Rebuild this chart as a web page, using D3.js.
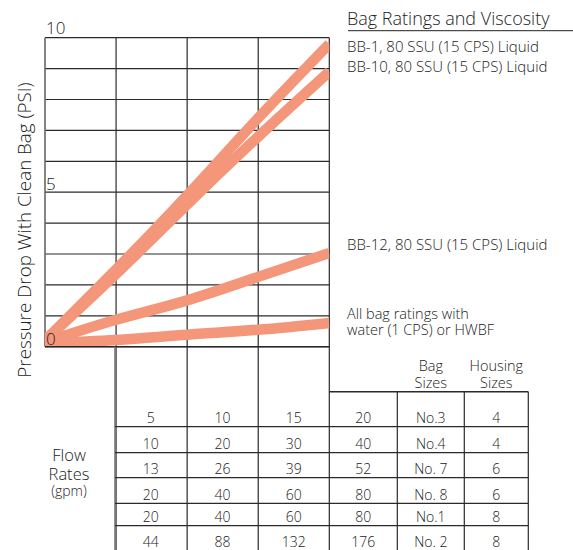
<!DOCTYPE html>
<html>
<head>
<meta charset="utf-8">
<script src="https://cdn.jsdelivr.net/npm/d3@7"></script>
<style>
	body { margin: 0; background: #fff; }
	svg text { font-family: 'Open Sans', sans-serif; font-weight: 300; fill: #222; }
</style>
</head>
<body>
<div id="chart-area"></div>
<script>
// Data
const flows = [0, 5, 10, 15, 20]
const bb1 = [0.2, 2.5, 4.9, 7.4, 9.8]
const bb10 = [0.2, 2.35, 4.6, 6.8, 8.9]
const bb12 = [0.15, 0.87, 1.5, 2.26, 3.03]
const water = [0.12, 0.22, 0.39, 0.55, 0.77]
const seriesNames = ['BB-1, 80 SSU (15 CPS) Liquid', 'BB-10, 80 SSU (15 CPS) Liquid',
	'BB-12, 80 SSU (15 CPS) Liquid', ['All bag ratings with', 'water (1 CPS) or HWBF']]
const yTicks = [0, 5, 10]

const tableRows = [
	['5', '10', '15', '20', 'No.3', '4'],
	['10', '20', '30', '40', 'No.4', '4'],
	['13', '26', '39', '52', 'No. 7', '6'],
	['20', '40', '60', '80', 'No. 8', '6'],
	['20', '40', '60', '80', 'No.1', '8'],
	['44', '88', '132', '176', 'No. 2', '8']
]
const headers = [['Bag', 'Sizes'], ['Housing', 'Sizes']]

// Sizing
const W = 573, H = 550
const PLOT = { LEFT: 45, RIGHT: 329.3, TOP: 37.7, BOTTOM: 346.7 }

const svg = d3.select('#chart-area').append('svg')
	.attr('width', W)
	.attr('height', H)

const x = d3.scaleLinear().domain([0, 20]).range([PLOT.LEFT, PLOT.RIGHT])
const y = d3.scaleLinear().domain([0, 10]).range([PLOT.BOTTOM, PLOT.TOP])

const gridColor = '#2a2a2a'

// grid
svg.append('g').selectAll('line.h')
	.data(d3.range(0, 11))
	.enter().append('line')
	.attr('x1', PLOT.LEFT).attr('x2', PLOT.RIGHT)
	.attr('y1', d => y(d)).attr('y2', d => y(d))
	.attr('stroke', gridColor).attr('stroke-width', 1.2)

svg.append('line')
	.attr('x1', PLOT.LEFT).attr('x2', PLOT.LEFT)
	.attr('y1', PLOT.TOP).attr('y2', PLOT.BOTTOM)
	.attr('stroke', '#666').attr('stroke-width', 1.6)

// interior verticals run down through the table
svg.append('g').selectAll('line.v')
	.data(flows.slice(1))
	.enter().append('line')
	.attr('x1', d => x(d)).attr('x2', d => x(d))
	.attr('y1', PLOT.TOP).attr('y2', H)
	.attr('stroke', gridColor).attr('stroke-width', 1.2)

// lines
svg.append('clipPath').attr('id', 'plot-clip')
	.append('rect')
	.attr('x', PLOT.LEFT).attr('y', PLOT.TOP)
	.attr('width', PLOT.RIGHT - PLOT.LEFT).attr('height', PLOT.BOTTOM - PLOT.TOP)

const line = d3.line()
	.x((d, i) => x(flows[i]))
	.y(d => y(d))
	.curve(d3.curveNatural)

svg.append('g').attr('clip-path', 'url(#plot-clip)')
	.selectAll('path')
	.data([water, bb12, bb10, bb1])
	.enter().append('path')
	.attr('d', line)
	.attr('fill', 'none')
	.attr('stroke', '#f4967a')
	.attr('stroke-width', 10.5)

// y tick labels
svg.append('g').selectAll('text')
	.data(yTicks)
	.enter().append('text')
	.attr('x', PLOT.LEFT + 1)
	.attr('y', d => d === 10 ? y(d) - 3.5 : y(d) - 1.8)
	.attr('font-size', '17px')
	.text(d => d)

// y-axis label
svg.append('text')
	.attr('transform', 'translate(31, 230) rotate(-90)')
	.attr('text-anchor', 'middle')
	.attr('font-size', '18.8px')
	.text('Pressure Drop With Clean Bag (PSI)')

// legend
svg.append('text')
	.attr('x', 347).attr('y', 25)
	.attr('font-size', '18px')
	.text('Bag Ratings and Viscosity')
svg.append('line')
	.attr('x1', 348).attr('x2', W)
	.attr('y1', 30.7).attr('y2', 30.7)
	.attr('stroke', '#222').attr('stroke-width', 1)

const legendY = [51.5, 71.5, 250, 318.5]
seriesNames.forEach((name, i) => {
	const t = svg.append('text')
		.attr('x', 347).attr('y', legendY[i])
		.attr('font-size', Array.isArray(name) ? '14.5px' : '15px')
	const lines = Array.isArray(name) ? name : [name]
	lines.forEach((s, j) => {
		t.append('tspan').attr('x', 347).attr('dy', j ? 16.5 : 0).text(s)
	})
})

// table
const colX = [115, 186.7, 258.3, 329.3, 397.3, 464.3, 528.3]
const rowY = [391.7, 426.7, 452.7, 477.7, 503.3, 525.7, H]
const tbl = svg.append('g')

// bottom axis of plot + top of right-hand box
tbl.append('line')
	.attr('x1', PLOT.LEFT).attr('x2', PLOT.RIGHT)
	.attr('y1', PLOT.BOTTOM).attr('y2', PLOT.BOTTOM)
	.attr('stroke', gridColor).attr('stroke-width', 1.4)
tbl.append('line')
	.attr('x1', colX[3]).attr('x2', colX[6])
	.attr('y1', rowY[0]).attr('y2', rowY[0])
	.attr('stroke', gridColor).attr('stroke-width', 1.4)

tbl.append('line')
	.attr('x1', colX[0]).attr('x2', colX[0])
	.attr('y1', PLOT.BOTTOM).attr('y2', H)
	.attr('stroke', '#777').attr('stroke-width', 1.6)

tbl.selectAll('line.col')
	.data(colX.slice(4))
	.enter().append('line')
	.attr('x1', d => d).attr('x2', d => d)
	.attr('y1', rowY[0]).attr('y2', H)
	.attr('stroke', gridColor).attr('stroke-width', 1.2)

tbl.selectAll('line.row')
	.data(rowY.slice(1, 6))
	.enter().append('line')
	.attr('x1', colX[0]).attr('x2', colX[6])
	.attr('y1', d => d).attr('y2', d => d)
	.attr('stroke', gridColor).attr('stroke-width', 1.2)

tableRows.forEach((row, r) => {
	tbl.selectAll(null)
		.data(row)
		.enter().append('text')
		.attr('x', (d, c) => (colX[c] + colX[c + 1]) / 2)
		.attr('y', rowY[r + 1] - 3.5)
		.attr('text-anchor', 'middle')
		.attr('font-size', '14px')
		.text(d => d)
})

headers.forEach((h, i) => {
	const cx = (colX[4 + i] + colX[5 + i]) / 2
	h.forEach((s, j) => {
		tbl.append('text')
			.attr('x', cx).attr('y', 370.5 + j * 17)
			.attr('text-anchor', 'middle')
			.attr('font-size', '14.5px')
			.text(s)
	})
})

// flow rates label
const flowLabel = [['Flow', 461, 16.5], ['Rates', 479.5, 16.5], ['(gpm)', 495.5, 14]]
flowLabel.forEach(([s, yy, fs]) => {
	svg.append('text')
		.attr('x', 69).attr('y', yy)
		.attr('text-anchor', 'middle')
		.attr('font-size', fs + 'px')
		.text(s)
})
</script>
</body>
</html>
